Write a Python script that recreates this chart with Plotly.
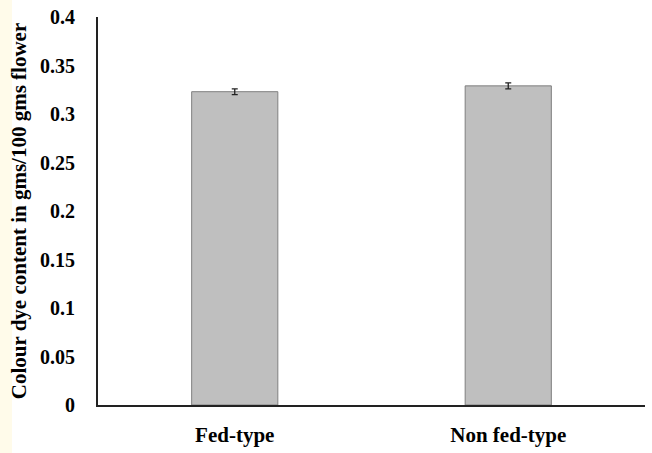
import plotly.graph_objects as go

categories = ["Fed-type", "Non fed-type"]
values = [0.323, 0.329]
errors = [0.003, 0.003]
y_ticks = [0, 0.05, 0.1, 0.15, 0.2, 0.25, 0.3, 0.35, 0.4]
y_ticktext = ["0", "0.05", "0.1", "0.15", "0.2", "0.25", "0.3", "0.35", "0.4"]

W, H = 652, 453
ml, mr, mt, mb = 98, 7, 17, 48
pw = W - ml - mr

FAM = "Liberation Serif"
xtf = dict(size=21, family=FAM, color="black", weight="bold")
ytf = dict(size=20, family=FAM, color="black", weight="bold")
ttf = dict(size=21, family=FAM, color="black", weight="bold")

fig = go.Figure()
fig.add_trace(go.Bar(
    x=categories, y=values,
    marker=dict(color="#BFBFBF", line=dict(color="#7F7F7F", width=1)),
    width=0.315,
    error_y=dict(type="data", array=errors, visible=True, color="#222222",
                 thickness=1.3, width=3),
))

fig.update_layout(
    width=W, height=H,
    margin=dict(l=ml, r=mr, t=mt, b=mb, autoexpand=False),
    paper_bgcolor="white", plot_bgcolor="white",
    font=dict(family=FAM, size=21, color="black"),
    showlegend=False,
    xaxis=dict(showline=True, linecolor="#222222", linewidth=2, automargin=False,
               showgrid=False, ticks="", tickfont=xtf,
               ticklabelstandoff=10),
    yaxis=dict(range=[0, 0.4], tickvals=y_ticks, ticktext=y_ticktext,
               showline=True, linecolor="#222222", linewidth=2, automargin=False,
               showgrid=False, zeroline=False, ticks="",
               ticklabelstandoff=17,
               tickfont=ytf,
               title=dict(text="Colour dye content in gms/100 gms flower",
                          font=ttf, standoff=8)),
    shapes=[dict(type="rect", xref="paper", yref="paper",
                 x0=-ml / pw, x1=-(ml - 12) / pw, y0=-1, y1=2,
                 fillcolor="#FFFBEA", line=dict(width=0), layer="below")],
)
fig.write_html("out.html", config={"displayModeBar": False},
               post_script="document.body.style.margin='0';document.body.style.padding='0';")
